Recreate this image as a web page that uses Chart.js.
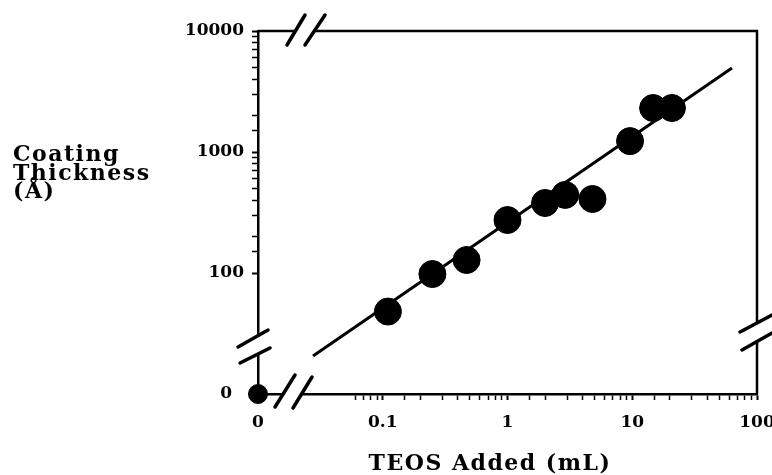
<!DOCTYPE html>
<html>
<head>
<meta charset="utf-8">
<script src="https://cdn.jsdelivr.net/npm/chart.js@4.4.1/dist/chart.umd.min.js"></script>
<style>
  html, body { margin: 0; padding: 0; background: #fff; }
  #wrap { width: 772px; height: 475px; }
</style>
</head>
<body>
<div id="wrap"><canvas id="teosChart" width="772" height="475"></canvas></div>
<script>
// measured points (TEOS added in mL, coating thickness in Å)
const teosAdded = [0.11, 0.25, 0.47, 1.0, 2.0, 2.9, 4.8, 9.6, 14.7, 20.8];
const thickness = [48, 98, 128, 274, 379, 442, 409, 1230, 2310, 2310];

// the straight fit line
const fitX = [0.0276, 63];
const fitY = [20.6, 4950];

// the "0" sits at the bottom-left corner of the broken axes
const zeroX = [0.01];
const zeroY = [10];

const xTickValues = [0.01, 0.1, 1, 10, 100];
const xTickText = ['0', '0.1', '1', '10', '100'];
const yTickValues = [10, 100, 1000, 10000];
const yTickText = ['0  ', '100', '1000', '10000'];

const serif = '"DejaVu Serif", "Liberation Serif", serif';

function labelFor(v, vals, texts) {
    const i = vals.findIndex(t => Math.abs(t - v) / t < 1e-6);
    return i < 0 ? '' : texts[i];
}

function isDecade(v) {
    const l = Math.log10(v);
    return Math.abs(l - Math.round(l)) < 1e-6;
}

const brokenAxes = {
    id: 'brokenAxes',
    beforeDatasetsDraw(chart) {
        const { ctx, chartArea: { left, right, top, bottom } } = chart;
        ctx.save();
        ctx.strokeStyle = '#000';
        ctx.lineWidth = 2.5;
        ctx.beginPath();
        ctx.moveTo(left, top);
        ctx.lineTo(right, top);
        ctx.lineTo(right, bottom);
        ctx.stroke();

        // cut the axes where they break
        ctx.fillStyle = '#fff';
        ctx.fillRect(left - 3, bottom - 57, 6, 16);
        ctx.fillRect(left + 26, bottom - 3, 17, 6);
        ctx.fillRect(left + 38, top - 3, 17, 6);
        ctx.fillRect(right - 3, bottom - 70, 6, 16);

        ctx.lineWidth = 3.5;
        ctx.lineCap = 'round';
        const slash = (cx, cy, dx, dy) => {
            ctx.beginPath();
            ctx.moveTo(cx - dx / 2, cy + dy / 2);
            ctx.lineTo(cx + dx / 2, cy - dy / 2);
            ctx.stroke();
        };
        slash(left - 5, bottom - 55.5, 30, 17);
        slash(left - 3, bottom - 38.5, 30, 15);
        slash(left + 27, bottom - 3, 20, 32);
        slash(left + 44.5, bottom - 1.5, 19, 31);
        slash(left + 38, top - 1, 18, 30);
        slash(left + 57, top - 1, 20, 30);
        slash(right - 1, bottom - 70.5, 32, 17);
        slash(right, bottom - 52.5, 30, 17);
        ctx.restore();
    },
    afterDraw(chart) {
        const { ctx } = chart;
        ctx.save();
        ctx.fillStyle = '#000';
        ctx.font = 'bold 22px ' + serif;
        ctx.letterSpacing = '1.5px';
        ctx.textAlign = 'left';
        ctx.textBaseline = 'alphabetic';
        ctx.fillText('Coating', 13, 161);
        ctx.fillText('Thickness', 13, 180);
        ctx.fillText('(Å)', 13, 198);
        ctx.textAlign = 'center';
        ctx.fillText('TEOS Added (mL)', 490, 470);
        ctx.restore();
    }
};

const tickColor = (limit) => (c) => {
    if (!c.tick) return '#000';
    return c.tick.value < limit ? 'rgba(0,0,0,0)' : '#000';
};

new Chart(document.getElementById('teosChart'), {
    type: 'scatter',
    data: {
        datasets: [
            {
                label: 'fit',
                type: 'line',
                data: fitX.map((x, i) => ({ x: x, y: fitY[i] })),
                borderColor: '#000',
                borderWidth: 3,
                pointRadius: 0,
                order: 2
            },
            {
                label: 'coating',
                data: teosAdded.map((x, i) => ({ x: x, y: thickness[i] })),
                backgroundColor: '#000',
                borderColor: '#000',
                pointRadius: 13.5,
                order: 1
            },
            {
                label: 'zero',
                data: zeroX.map((x, i) => ({ x: x, y: zeroY[i] })),
                backgroundColor: '#000',
                borderColor: '#000',
                pointRadius: 9.5,
                clip: false,
                order: 0
            }
        ]
    },
    options: {
        responsive: false,
        animation: false,
        layout: { padding: { top: 31, right: 15, left: 0, bottom: 0 } },
        plugins: {
            legend: { display: false },
            tooltip: { enabled: false }
        },
        scales: {
            x: {
                type: 'logarithmic',
                min: 0.01,
                max: 100,
                afterFit: s => { s.height = 81; s.paddingLeft = 0; s.paddingRight = 0; },
                border: { color: '#000', width: 2.5 },
                grid: {
                    drawOnChartArea: false,
                    tickLength: 6,
                    color: tickColor(0.055),
                    tickColor: tickColor(0.055),
                    tickWidth: c => (c.tick && isDecade(c.tick.value)) ? 2 : 1.5
                },
                ticks: {
                    autoSkip: false,
                    maxRotation: 0,
                    padding: 12,
                    color: '#000',
                    font: { family: serif, size: 17, weight: 'bold' },
                    callback: v => labelFor(v, xTickValues, xTickText)
                }
            },
            y: {
                type: 'logarithmic',
                min: 10,
                max: 10000,
                afterFit: s => { s.width = 258; s.paddingTop = 0; s.paddingBottom = 0; },
                border: { color: '#000', width: 2.5 },
                grid: {
                    drawOnChartArea: false,
                    tickLength: 6,
                    color: tickColor(95),
                    tickColor: tickColor(95),
                    tickWidth: c => (c.tick && isDecade(c.tick.value)) ? 2 : 1.5
                },
                ticks: {
                    autoSkip: false,
                    padding: 8,
                    color: '#000',
                    font: { family: serif, size: 17, weight: 'bold' },
                    callback: v => labelFor(v, yTickValues, yTickText)
                }
            }
        }
    },
    plugins: [brokenAxes]
});
</script>
</body>
</html>
